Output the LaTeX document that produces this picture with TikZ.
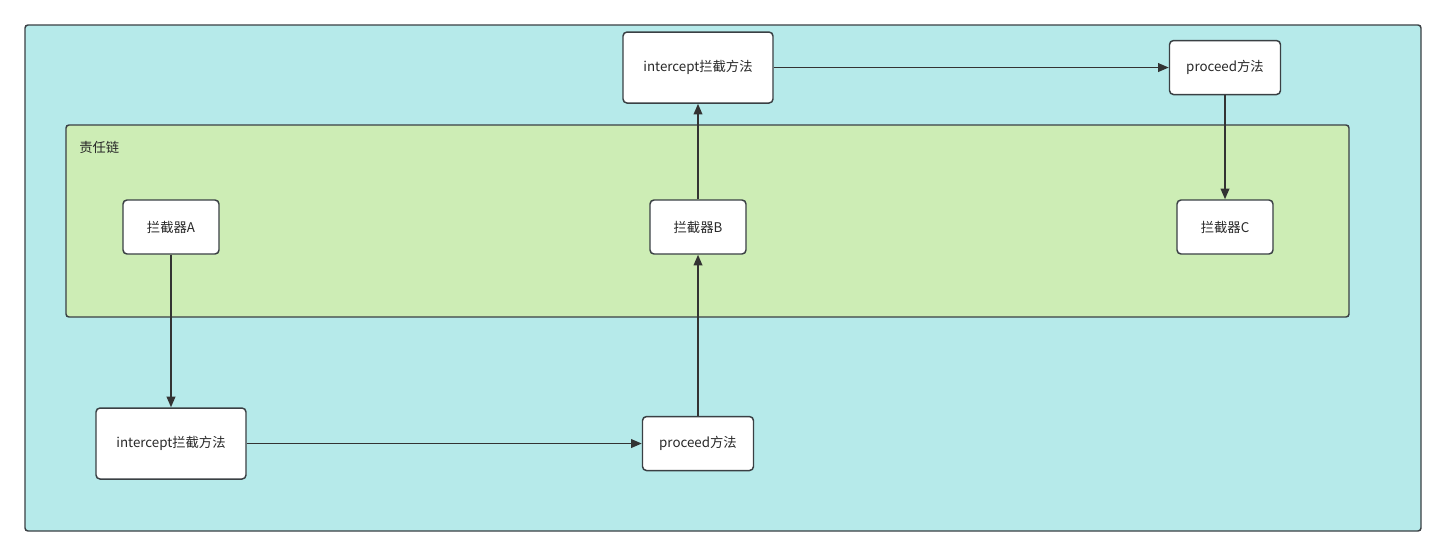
\documentclass[tikz,border=0pt]{standalone}
\usepackage{fontspec}
\setmainfont{Noto Sans CJK SC}
\usepackage{tikz}
\usetikzlibrary{positioning, arrows.meta}
\definecolor{outerfill}{RGB}{182,234,234}
\definecolor{chainfill}{RGB}{205,237,181}
\definecolor{edgegray}{RGB}{58,64,68}
\definecolor{arrowgray}{RGB}{51,51,51}
\definecolor{textgray}{RGB}{40,40,40}
\tikzset{
x=0.75pt, y=-0.75pt, % one unit is one pixel of the reference
on grid, % distances are measured between centres
panel/.style={draw=edgegray, line width=1.1pt, rounded corners=2.25pt},
box/.style={draw=edgegray, fill=white, line width=1.1pt, rounded corners=3pt, text=textgray, font=\fontsize{10}{12}\selectfont, inner sep=0pt},
filter/.style={box, minimum width=72pt, minimum height=40.5pt},
method/.style={box, minimum width=112.5pt, minimum height=53.25pt},
proceedbox/.style={box, minimum width=83.25pt, minimum height=40.5pt},
link/.style={-{Triangle[length=8pt, width=6.5pt]}, draw=arrowgray, line width=1.2pt},
}
\begin{document}
\begin{tikzpicture}
\useasboundingbox[fill=white] (0,0) rectangle (1446,557);
% background panels
\draw[panel, fill=outerfill] (25,25) rectangle (1421,531);
\draw[panel, fill=chainfill] (66,125) rectangle (1349,317);
\node[anchor=west, text=textgray, font=\fontsize{10}{12}\selectfont, inner sep=0pt] (chain) at (79,147) {责任链};

% interceptors
\node[filter] (fA) at (171,227) {拦截器A};
\node[filter, right=395.25pt of fA] (fB) {拦截器B};
\node[filter, right=395.25pt of fB] (fC) {拦截器C};

% methods
\node[method, below=162.4pt of fA] (ia) {intercept拦截方法};
\node[proceedbox, right=395.25pt of ia] (pa) {proceed方法};
\node[method, above=119.6pt of fB] (ib) {intercept拦截方法};
\node[proceedbox, right=395.25pt of ib] (pb) {proceed方法};

\draw[link] (fA) -- (ia);
\draw[link] (ia) -- (pa);
\draw[link] (pa) -- (fB);
\draw[link] (fB) -- (ib);
\draw[link] (ib) -- (pb);
\draw[link] (pb) -- (fC);
\end{tikzpicture}
\end{document}
